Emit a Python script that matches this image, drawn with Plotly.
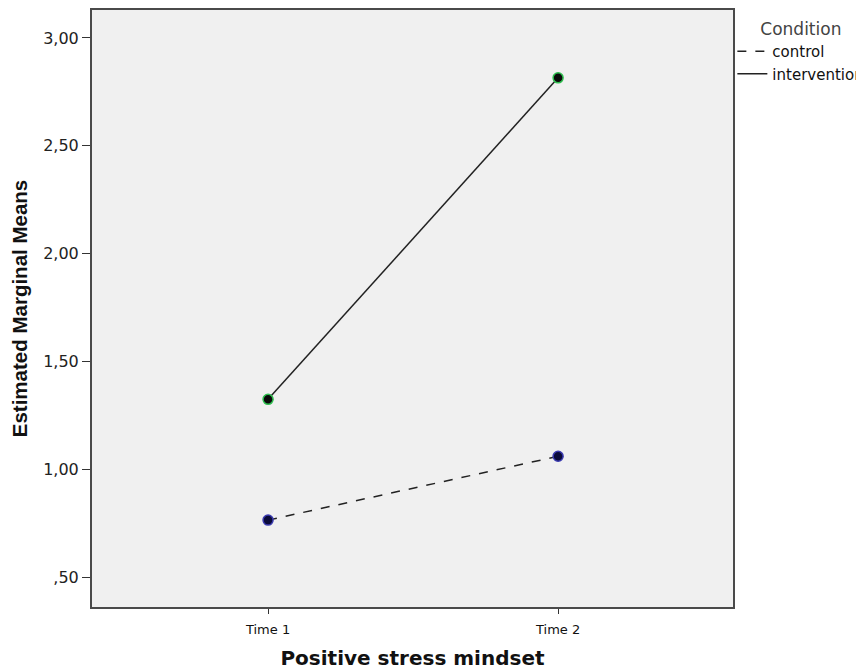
import plotly.graph_objects as go

times = ["Time 1", "Time 2"]
control = [0.764, 1.06]
intervention = [1.324, 2.815]
y_tick_vals = [0.5, 1.0, 1.5, 2.0, 2.5, 3.0]
y_tick_text = [",50", "1,00", "1,50", "2,00", "2,50", "3,00"]

fig = go.Figure()
fig.add_trace(go.Scatter(x=times, y=control, mode="lines", name="control",
                         line=dict(color="#222222", width=1.5, dash="dash")))
fig.add_trace(go.Scatter(x=times, y=intervention, mode="lines", name="intervention",
                         line=dict(color="#222222", width=1.5)))
fig.add_trace(go.Scatter(x=times, y=control, mode="markers", showlegend=False,
                         marker=dict(size=10, color="#0a0a3a", line=dict(color="#3a3ab0", width=1.5))))
fig.add_trace(go.Scatter(x=times, y=intervention, mode="markers", showlegend=False,
                         marker=dict(size=10, color="#0a0a0a", line=dict(color="#2fbf4f", width=1.5))))

fig.update_layout(
    width=864, height=671,
    margin=dict(l=84, r=139, t=0, b=72),
    paper_bgcolor="white",
    plot_bgcolor="#f0f0f0",
    font=dict(family="DejaVu Sans, Liberation Sans, sans-serif", color="#222222"),
    legend=dict(
        x=0.999, y=0.995, xanchor="left", yanchor="top",
        title=dict(text="Condition", font=dict(size=17, color="#444444"), side="top center"),
        font=dict(size=15, color="#111111"),
        itemwidth=30, tracegroupgap=0,
        bgcolor="rgba(0,0,0,0)",
    ),
    xaxis=dict(
        type="category", range=[-0.607, 1.603],
        showline=True, mirror=True, linecolor="#4a4a4a", linewidth=2,
        ticks="outside", ticklen=5, tickcolor="#333333", tickwidth=1,
        ticklabelstandoff=4,
        showgrid=False, zeroline=False,
        tickfont=dict(size=13, color="#111111"),
        title=dict(text="<b>Positive stress mindset</b>",
                   font=dict(family="DejaVu Sans, sans-serif", size=20, color="#111111"),
                   standoff=15),
    ),
    yaxis=dict(
        range=[0.3611, 3.1296],
        tickvals=y_tick_vals, ticktext=y_tick_text,
        showline=True, mirror=True, linecolor="#4a4a4a", linewidth=2,
        ticks="outside", ticklen=8, tickcolor="#333333", tickwidth=1,
        showgrid=False, zeroline=False,
        tickfont=dict(size=16, color="#222222"),
        title=dict(text="<b>Estimated Marginal Means</b>",
                   font=dict(family="Liberation Sans, Arial, sans-serif", size=20.5, color="#111111"),
                   standoff=15),
    ),
)

fig.write_html("out.html")
